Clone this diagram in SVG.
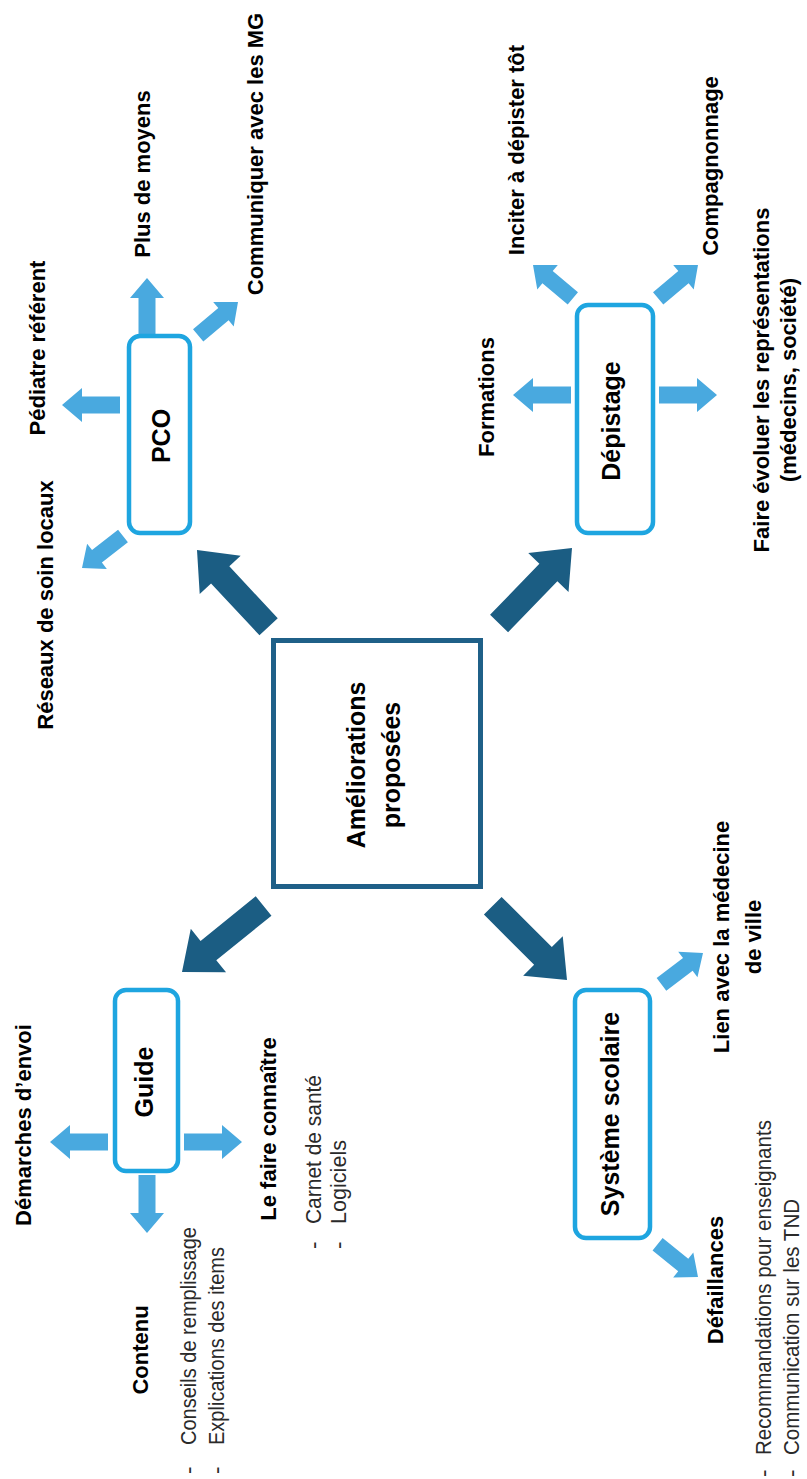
<svg xmlns="http://www.w3.org/2000/svg" width="807" height="1479" viewBox="0 0 807 1479">
<style>
 .lbl{font-family:"Liberation Sans",Arial,sans-serif;font-weight:bold;font-size:22px;fill:#000;text-anchor:middle}
 .node{font-family:"Liberation Sans",Arial,sans-serif;font-weight:bold;font-size:25px;fill:#000;text-anchor:middle}
 .item{font-family:"Liberation Sans",Arial,sans-serif;font-size:22.5px;fill:#2a2a2a}
 .box{fill:#fff;stroke:#1ea5e0;stroke-width:4.5}
 .center{fill:#fff;stroke:#1f6088;stroke-width:5}
 .dark{fill:#1b5d83}
 .light{fill:#49a9df}
</style>
<defs>
 <path id="bigArrow" d="M-105,-12.5 H-34 V-28 L0,0 L-34,28 V12.5 H-105 Z"/>
 <path id="arrowL" d="M-58,-8.5 H-20 V-17 L0,0 L-20,17 V8.5 H-58 Z"/>
 <path id="arrowS" d="M-52,-8 H-19 V-16 L0,0 L-19,16 V8 H-52 Z"/>
</defs>
<rect width="807" height="1479" fill="#fff"/>

<g id="connectors">
 <use href="#bigArrow" class="dark" transform="translate(197,550) rotate(-133)"/>
 <use href="#bigArrow" class="dark" transform="translate(572,548) rotate(-46)"/>
 <use href="#bigArrow" class="dark" transform="translate(182,972) rotate(141)"/>
 <use href="#bigArrow" class="dark" transform="translate(567,980) rotate(45)"/>

 <use href="#arrowL" class="light" transform="translate(62,405) rotate(180)"/>
 <use href="#arrowL" class="light" transform="translate(147,278) rotate(-90)"/>
 <use href="#arrowS" class="light" transform="translate(238,302) rotate(-40)"/>
 <use href="#arrowS" class="light" transform="translate(82,568) rotate(142)"/>

 <use href="#arrowL" class="light" transform="translate(513,395) rotate(180)"/>
 <use href="#arrowL" class="light" transform="translate(717,395)"/>
 <use href="#arrowS" class="light" transform="translate(533,265) rotate(-140)"/>
 <use href="#arrowS" class="light" transform="translate(698,265) rotate(-40)"/>

 <use href="#arrowL" class="light" transform="translate(50,1142) rotate(180)"/>
 <use href="#arrowL" class="light" transform="translate(147,1233) rotate(90)"/>
 <use href="#arrowL" class="light" transform="translate(242,1142)"/>

 <use href="#arrowS" class="light" transform="translate(703,953) rotate(-37)"/>
 <use href="#arrowS" class="light" transform="translate(698,1277) rotate(39)"/>
</g>

<g id="node-center">
 <rect class="center" x="273.5" y="640.5" width="207" height="246"/>
 <text class="node" transform="translate(365,765) rotate(-90)"><tspan x="0" y="0">Améliorations</tspan><tspan x="0" y="35">proposées</tspan></text>
</g>

<g id="node-pco">
 <rect class="box" x="129" y="336" width="61" height="197" rx="11"/>
 <text class="node" transform="translate(170,436) rotate(-90)">PCO</text>
</g>
<g id="node-depistage">
 <rect class="box" x="577" y="305" width="76" height="228" rx="11"/>
 <text class="node" transform="translate(620,421) rotate(-90)">Dépistage</text>
</g>
<g id="node-guide">
 <rect class="box" x="115" y="990" width="63" height="181" rx="11"/>
 <text class="node" transform="translate(153,1082) rotate(-90)">Guide</text>
</g>
<g id="node-systeme">
 <rect class="box" x="575" y="990" width="75" height="248" rx="11"/>
 <text class="node" transform="translate(619,1114) rotate(-90)">Système scolaire</text>
</g>

<g id="leaf-reseaux"><text class="lbl" transform="translate(53,605) rotate(-90)">Réseaux de soin locaux</text></g>
<g id="leaf-pediatre"><text class="lbl" transform="translate(45,348) rotate(-90)">Pédiatre référent</text></g>
<g id="leaf-moyens"><text class="lbl" transform="translate(150,174) rotate(-90)">Plus de moyens</text></g>
<g id="leaf-communiquer"><text class="lbl" transform="translate(263,154) rotate(-90)">Communiquer avec les MG</text></g>

<g id="leaf-formations"><text class="lbl" transform="translate(494,397) rotate(-90)">Formations</text></g>
<g id="leaf-inciter"><text class="lbl" transform="translate(524,150) rotate(-90)">Inciter à dépister tôt</text></g>
<g id="leaf-compagnonnage"><text class="lbl" transform="translate(718,166) rotate(-90)">Compagnonnage</text></g>
<g id="leaf-faire"><text class="lbl" transform="translate(769,380) rotate(-90)"><tspan x="0" y="0">Faire évoluer les représentations</tspan><tspan x="0" y="27">(médecins, société)</tspan></text></g>

<g id="leaf-demarches"><text class="lbl" transform="translate(31,1125) rotate(-90)">Démarches d’envoi</text></g>
<g id="leaf-contenu">
 <text class="lbl" transform="translate(148,1350) rotate(-90)">Contenu</text>
 <text class="item" transform="translate(196,1474) rotate(-90)">-</text>
 <text class="item" transform="translate(196,1445) rotate(-90)" textLength="218" lengthAdjust="spacingAndGlyphs">Conseils de remplissage</text>
 <text class="item" transform="translate(224,1474) rotate(-90)">-</text>
 <text class="item" transform="translate(224,1445) rotate(-90)" textLength="198" lengthAdjust="spacingAndGlyphs">Explications des items</text>
</g>
<g id="leaf-faireconnaitre">
 <text class="lbl" transform="translate(276,1129) rotate(-90)">Le faire connaître</text>
 <text class="item" transform="translate(321,1249) rotate(-90)">-</text>
 <text class="item" transform="translate(321,1224) rotate(-90)" textLength="149" lengthAdjust="spacingAndGlyphs">Carnet de santé</text>
 <text class="item" transform="translate(346,1249) rotate(-90)">-</text>
 <text class="item" transform="translate(346,1224) rotate(-90)" textLength="84" lengthAdjust="spacingAndGlyphs">Logiciels</text>
</g>

<g id="leaf-lien"><text class="lbl" transform="translate(729,937) rotate(-90)"><tspan x="0" y="0">Lien avec la médecine</tspan><tspan x="0" y="32">de ville</tspan></text></g>
<g id="leaf-defaillances">
 <text class="lbl" transform="translate(723,1280) rotate(-90)">Défaillances</text>
 <text class="item" transform="translate(771,1477) rotate(-90)">-</text>
 <text class="item" transform="translate(771,1455) rotate(-90)" textLength="335" lengthAdjust="spacingAndGlyphs">Recommandations pour enseignants</text>
 <text class="item" transform="translate(799,1477) rotate(-90)">-</text>
 <text class="item" transform="translate(799,1455) rotate(-90)" textLength="256" lengthAdjust="spacingAndGlyphs">Communication sur les TND</text>
</g>
</svg>
